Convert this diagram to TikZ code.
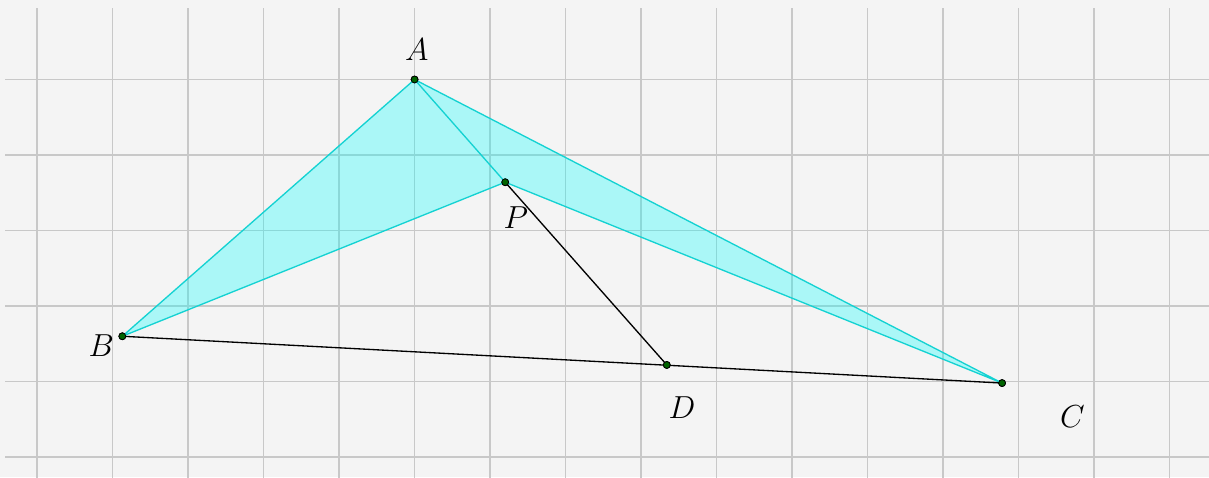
\documentclass[tikz,border=0pt]{standalone}
\usetikzlibrary{positioning}
\definecolor{paper}{RGB}{244,244,244}
\definecolor{gridline}{RGB}{200,200,200}
\definecolor{edgecyan}{RGB}{20,210,210}
\definecolor{shade}{RGB}{0,255,255}
\definecolor{ptgreen}{RGB}{0,100,0}
\begin{document}
\begin{tikzpicture}[font=\large,
 pt/.style={circle, draw=black, fill=ptgreen, line width=.3pt, inner sep=0pt, minimum size=2.6pt},
 lbl/.style={inner sep=0pt},
 side/.style={line width=.5pt}]
\fill[paper] (-0.49,-0.265) rectangle (15.52,6.053);
\useasboundingbox (-0.49,-0.265) rectangle (15.52,6.053);
\clip (-0.49,-0.265) rectangle (15.52,6.053);
\draw[gridline, line width=.55pt] (-0.42,-0.4) grid (15.7,5.95);
% points
\node[pt] (A) at (5,5) {};
\node[pt] (B) at (1.13,1.6) {};
\node[pt] (C) at (12.78,0.98) {};
\node[pt] (D) at (8.34,1.22) {};
\node[pt] (P) at (6.2,3.64) {};
% shaded region
\filldraw[side, draw=edgecyan, fill=shade, fill opacity=.3] (A.center) -- (B.center) -- (P.center) -- (C.center) -- cycle;
\draw[side, edgecyan] (A.center) -- (P.center);
\draw[side] (P.center) -- (D.center);
\draw[side] (B.center) -- (C.center);
\foreach \p in {A,B,C,D,P} \node[pt] at (\p) {};
% labels
\node[lbl] (labA) at (5.03,5.39) {$A$};
\node[lbl] (labP) at (6.34,3.17) {$P$};
\node[lbl] (labB) at (0.85,1.48) {$B$};
\node[lbl] (labD) at (8.54,0.65) {$D$};
\node[lbl] (labC) at (13.71,0.54) {$C$};
\end{tikzpicture}
\end{document}
